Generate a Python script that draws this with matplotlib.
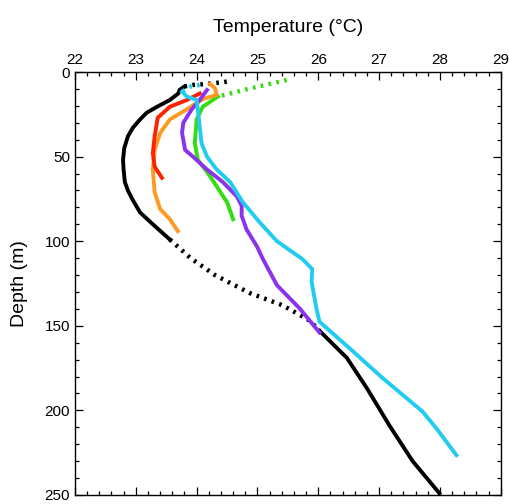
import numpy as np
import matplotlib.pyplot as plt
from matplotlib.ticker import MultipleLocator

plt.rcParams['font.family'] = ['Liberation Sans', 'DejaVu Sans']

# profiles: temperature (degC) vs depth (m)
black_top_t = [23.80, 23.94, 24.17, 24.45, 24.58]
black_top_d = [8.5, 7.6, 7.0, 5.9, 5.0]
black_t = [23.80, 23.72, 23.70, 23.56, 23.35, 23.18, 23.07, 22.95, 22.87, 22.81, 22.79, 22.80,
           22.82, 22.87, 22.94, 23.07, 23.28, 23.56]
black_d = [8.5, 10.5, 12.6, 16.5, 20.5, 24, 28, 33, 38, 45, 52, 58, 65, 70, 75, 83, 90, 99]
black_gap_t = [23.56, 23.90, 24.30, 24.87, 25.42, 25.86, 26.02]
black_gap_d = [99, 110, 120, 130.6, 138, 147, 153]
black_deep_t = [26.02, 26.47, 26.80, 27.17, 27.55, 27.99]
black_deep_d = [153, 169, 187, 209, 230, 249]

green_top_t = [25.48, 24.90, 24.35]
green_top_d = [4.7, 9.5, 14.5]
green_t = [24.35, 24.10, 24.00, 23.97, 24.02, 24.17, 24.33, 24.50, 24.60]
green_d = [14.5, 20.5, 28, 42, 52, 59, 67.6, 77, 87]

orange_t = [24.22, 24.30, 24.33, 24.10, 23.84, 23.56, 23.40, 23.31, 23.28, 23.31, 23.40, 23.56, 23.69]
orange_d = [7.0, 9.5, 13.5, 16.0, 22, 28, 36, 46, 58, 71, 81, 87, 94]

red_t = [24.05, 23.84, 23.56, 23.36, 23.31, 23.28, 23.31, 23.43]
red_d = [12.7, 16.5, 20.5, 27, 38, 48, 56, 62.5]

purple_t = [24.17, 24.05, 23.92, 23.78, 23.76, 23.81, 23.94, 24.17, 24.43, 24.66, 24.74,
            24.74, 24.82, 24.99, 25.09, 25.32, 25.70, 26.02]
purple_d = [10.6, 16.5, 22, 30, 36, 46, 50, 57.6, 65, 73.5, 79, 85, 93, 103, 110.6, 126, 140, 154]

cyan_top_t = [24.05, 23.90, 23.76]
cyan_top_d = [7.6, 8.5, 11.6]
cyan_t = [23.76, 23.84, 24.00, 24.02, 24.05, 24.08, 24.17, 24.33, 24.55, 24.76, 25.04, 25.32,
          25.74, 25.90, 25.89, 25.97, 26.02, 26.52, 27.06, 27.71, 27.94, 28.27]
cyan_d = [11.6, 14.5, 16.5, 22, 32, 42, 50, 57.6, 65, 77, 89, 100, 110.6, 116.5, 124, 140,
          147.6, 163.5, 181, 200.6, 210.6, 226.5]

fig = plt.figure(figsize=(5.10, 5.04), dpi=100)
ax = fig.add_axes([0.147, 0.018, 0.835, 0.839])

lw = 2.8
dots = (0, (0.6, 1.2))
ax.plot(black_top_t, black_top_d, color='black', lw=3.2, ls=dots)
ax.plot(black_t, black_d, color='black', lw=lw)
ax.plot(black_gap_t, black_gap_d, color='black', lw=3.2, ls=dots)
ax.plot(black_deep_t, black_deep_d, color='black', lw=lw)
ax.plot(green_top_t, green_top_d, color='#33dd11', lw=3.2, ls=dots)
ax.plot(green_t, green_d, color='#33dd11', lw=lw)
ax.plot(orange_t, orange_d, color='#ff9922', lw=lw)
ax.plot(red_t, red_d, color='#ff2200', lw=lw)
ax.plot(purple_t, purple_d, color='#8a33ee', lw=lw)
ax.plot(cyan_top_t, cyan_top_d, color='#22ccf0', lw=3.2, ls=dots)
ax.plot(cyan_t, cyan_d, color='#22ccf0', lw=lw)

ax.set_xlim(22, 29)
ax.set_ylim(250, 0)
ax.xaxis.set_major_locator(MultipleLocator(1))
ax.xaxis.set_minor_locator(MultipleLocator(0.2))
ax.yaxis.set_major_locator(MultipleLocator(50))
ax.yaxis.set_minor_locator(MultipleLocator(10))
ax.tick_params(which='both', direction='in', top=True, bottom=True, left=True, right=True,
               labeltop=True, labelbottom=False, labelsize=11, width=0.9)
ax.tick_params(which='major', length=6)
ax.tick_params(which='minor', length=3)
for s in ax.spines.values():
    s.set_linewidth(1.0)
ax.xaxis.set_label_position('top')
ax.set_xlabel('Temperature (°C)', fontsize=14, labelpad=15)
ax.set_ylabel('Depth (m)', fontsize=14, labelpad=12)

fig.savefig('out.png', dpi=100)
